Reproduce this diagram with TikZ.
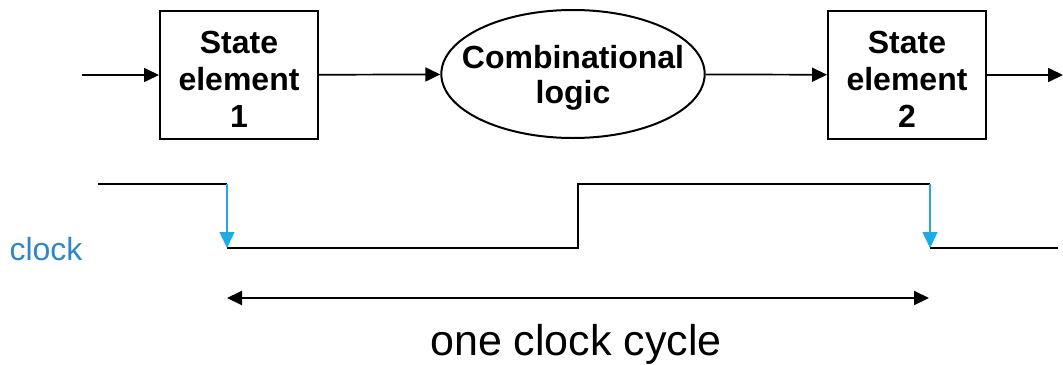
\documentclass[tikz,border=0pt]{standalone}
\usepackage{fontspec}
\setmainfont{Liberation Sans}
\usetikzlibrary{arrows.meta,shapes.geometric}
\definecolor{edgeblue}{RGB}{30,170,226}
\definecolor{clockblue}{RGB}{45,135,200}
\newcommand{\topgap}{\rule{0pt}{15pt}}

\begin{document}
\begin{tikzpicture}[x=0.5pt,y=-0.5pt,
        blk/.style={draw, line width=1pt, minimum width=79pt, minimum height=64pt, inner sep=0pt, align=center, font=\fontsize{16}{18.5}\selectfont\bfseries},
        wire/.style={line width=0.85pt, -{Triangle[length=7.5pt,width=7pt]}},
        wave/.style={line width=1.1pt},
        edge/.style={draw=edgeblue, line width=0.7pt, -{Triangle[length=8pt,width=7.5pt]}}]
        \useasboundingbox (0,0) rectangle (1063,364);
        \node[blk] (S1) at (239,75) {\topgap State\\element\\1};
        \node[draw, ellipse, line width=1pt, minimum width=130pt, minimum height=64pt, inner xsep=-9pt, inner ysep=0pt, text depth=0pt, align=center, font=\fontsize{16}{17.5}\selectfont\bfseries] (CL) at (573,74) {Combinational\\logic};
        \node[blk] (S2) at (907,75) {\topgap State\\element\\2};
        \coordinate (IN) at (82,75);
        \coordinate (OUT) at (1063,75);
        \draw[wire] (IN) -- (S1);
        \draw[wire] (S1) -- (CL);
        \draw[wire] (CL) -- (S2);
        \draw[wire] (S2) -- (OUT);
        \coordinate (H0) at (98,184);
        \coordinate (F1) at (227,184);
        \coordinate (L1) at (227,248);
        \coordinate (R1) at (578,248);
        \coordinate (R2) at (578,184);
        \coordinate (F2) at (930,184);
        \coordinate (L2) at (930,248);
        \coordinate (E) at (1058,248);
        \draw[wave] (H0) -- (F1);
        \draw[wave] (L1) -- (R1) -- (R2) -- (F2);
        \draw[wave] (L2) -- (E);
        \draw[edge] (F1) -- (L1);
        \draw[edge] (F2) -- (L2);
        \node[anchor=base, text=clockblue, font=\fontsize{16}{18}\selectfont] (CLK) at (46,260) {clock};
        \coordinate (C1) at (227,298);
        \coordinate (C2) at (929,298);
        \draw[line width=1pt, {Triangle[length=7.5pt,width=7pt]}-{Triangle[length=7.5pt,width=7pt]}] (C1) -- (C2);
        \node[anchor=base, font=\fontsize{21.5}{24}\selectfont] (CYC) at (576,355) {one clock cycle};
\end{tikzpicture}
\end{document}
